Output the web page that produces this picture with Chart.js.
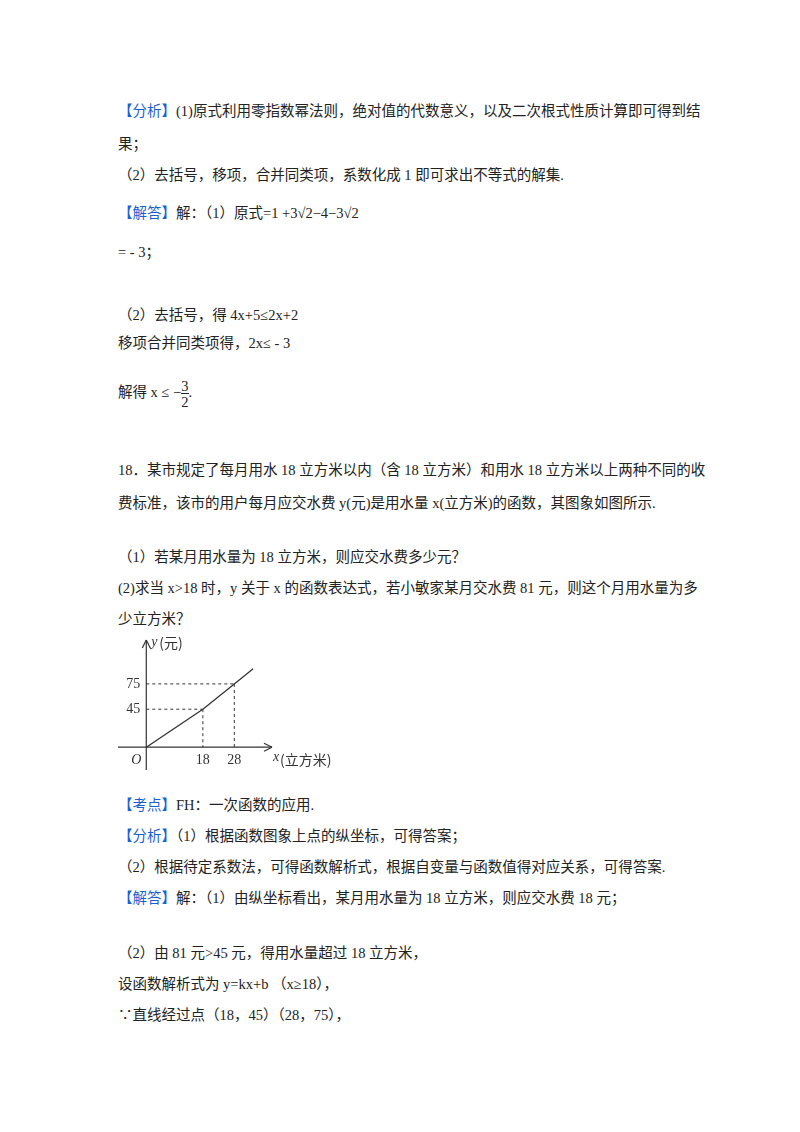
<!DOCTYPE html>
<html><head><meta charset="utf-8">
<script src="https://cdn.jsdelivr.net/npm/chart.js@4"></script>
<style>
body{margin:0;background:#fff;width:800px;height:1132px;position:relative;font-family:"Liberation Serif","Noto Sans CJK SC",serif;color:#222}
.t{position:absolute;left:118px;font-size:14.5px;white-space:nowrap}
.b{color:#1a5fd0}
#wrap{position:absolute;left:100px;top:625px;width:240px;height:160px}
</style></head><body>
<div class="t" style="top:99px"><span class="b">【分析】</span>(1)原式利用零指数幂法则，绝对值的代数意义，以及二次根式性质计算即可得到结</div>
<div class="t" style="top:132px">果；</div>
<div class="t" style="top:163px">（2）去括号，移项，合并同类项，系数化成 1 即可求出不等式的解集.</div>
<div class="t" style="top:201px"><span class="b">【解答】</span>解：（1）原式=1 +3√2−4−3√2</div>
<div class="t" style="top:240px">= - 3；</div>
<div class="t" style="top:303px">（2）去括号，得 4x+5≤2x+2</div>
<div class="t" style="top:331px">移项合并同类项得，2x≤ - 3</div>
<div class="t" style="top:378px">解得 x ≤ −<span style="display:inline-block;vertical-align:middle;text-align:center;line-height:16px">3<br><span style="border-top:1px solid #222">2</span></span>.</div>
<div class="t" style="top:458px">18．某市规定了每月用水 18 立方米以内（含 18 立方米）和用水 18 立方米以上两种不同的收</div>
<div class="t" style="top:491px">费标准，该市的用户每月应交水费 y(元)是用水量 x(立方米)的函数，其图象如图所示.</div>
<div class="t" style="top:545px">（1）若某月用水量为 18 立方米，则应交水费多少元？</div>
<div class="t" style="top:576px">(2)求当 x>18 时，y 关于 x 的函数表达式，若小敏家某月交水费 81 元，则这个月用水量为多</div>
<div class="t" style="top:607px">少立方米？</div>
<div id="wrap"><canvas id="c"></canvas></div>
<div class="t" style="top:793px"><span class="b">【考点】</span>FH：一次函数的应用.</div>
<div class="t" style="top:824px"><span class="b">【分析】</span>（1）根据函数图象上点的纵坐标，可得答案；</div>
<div class="t" style="top:855px">（2）根据待定系数法，可得函数解析式，根据自变量与函数值得对应关系，可得答案.</div>
<div class="t" style="top:886px"><span class="b">【解答】</span>解：（1）由纵坐标看出，某月用水量为 18 立方米，则应交水费 18 元；</div>
<div class="t" style="top:941px">（2）由 81 元>45 元，得用水量超过 18 立方米，</div>
<div class="t" style="top:972px">设函数解析式为 y=kx+b （x≥18），</div>
<div class="t" style="top:1003px">∵直线经过点（18，45）（28，75），</div>
<script>
const xs=[0,18,28,34];
const ys=[0,45,75,93];
const xTicks=[18,28];
const yTicks=[45,75];
const axes={id:'ax',afterDatasetsDraw(ch){
 const c=ch.ctx,X=ch.scales.x,Y=ch.scales.y;
 const ox=X.getPixelForValue(0),oy=Y.getPixelForValue(0);
 c.save();c.strokeStyle='#333';c.fillStyle='#333';c.lineWidth=1.2;
 c.beginPath();c.moveTo(X.left,oy);c.lineTo(X.right,oy);c.moveTo(ox,Y.bottom);c.lineTo(ox,Y.top);c.stroke();
 c.beginPath();c.moveTo(X.right,oy);c.lineTo(X.right-8,oy-4);c.moveTo(X.right,oy);c.lineTo(X.right-8,oy+4);
 c.moveTo(ox,Y.top);c.lineTo(ox-4,Y.top+8);c.moveTo(ox,Y.top);c.lineTo(ox+4,Y.top+8);c.stroke();
 c.setLineDash([3,3]);c.lineWidth=1;
 for(let i=0;i<2;i++){const px=X.getPixelForValue(xTicks[i]),py=Y.getPixelForValue(yTicks[i]);
  c.beginPath();c.moveTo(ox,py);c.lineTo(px,py);c.moveTo(px,py);c.lineTo(px,oy);c.stroke();}
 c.setLineDash([]);
 c.font='14px "Liberation Serif",serif';c.textBaseline='middle';
 c.textAlign='right';yTicks.forEach(v=>c.fillText(String(v),ox-6,Y.getPixelForValue(v)));
 c.textAlign='center';xTicks.forEach(v=>c.fillText(String(v),X.getPixelForValue(v),oy+13));
 c.font='italic 14px "Liberation Serif",serif';c.fillText('O',ox-10,oy+13);
 c.textAlign='left';c.fillText('x',X.right+1,oy+10);c.fillText('y',ox+5,Y.top+2);
 c.font='14px "Noto Sans CJK SC",sans-serif';c.fillText('(立方米)',X.right+8,oy+12);c.fillText('(元)',ox+13,Y.top+3);
 c.restore();}};
new Chart(document.getElementById('c'),{type:'scatter',
 data:{datasets:[{data:xs.map((x,i)=>({x,y:ys[i]})),showLine:true,borderColor:'#333',borderWidth:1.3,pointRadius:0,tension:0}]},
 options:{responsive:true,maintainAspectRatio:false,animation:false,
  layout:{padding:{left:18,right:68,top:15,bottom:15}},
  plugins:{legend:{display:false},tooltip:{enabled:false}},
  scales:{x:{type:'linear',min:-9,max:40,display:false},y:{type:'linear',min:-27,max:127,display:false}}},
 plugins:[axes]});
</script>
</body></html>
